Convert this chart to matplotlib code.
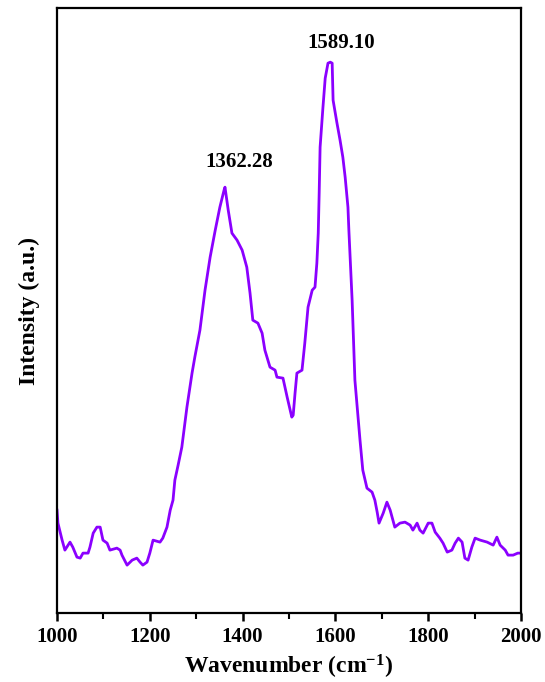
import numpy as np
import matplotlib
matplotlib.use("Agg")
import matplotlib.pyplot as plt
from matplotlib.ticker import MultipleLocator

# Raman spectrum
wavenumber = [1000, 1002, 1011, 1017, 1028, 1034, 1043, 1050, 1056, 1067, 1071, 1078, 1086,
              1093, 1099, 1108, 1114, 1129, 1136, 1140, 1151, 1162, 1172, 1179, 1185, 1194,
              1200, 1207, 1222, 1228, 1237, 1244, 1250, 1254, 1261, 1269, 1280, 1291, 1297,
              1308, 1319, 1330, 1341, 1351, 1360, 1362, 1369, 1377, 1388, 1399, 1409, 1416,
              1422, 1433, 1442, 1448, 1459, 1470, 1474, 1487, 1496, 1506, 1509, 1513, 1517,
              1528, 1534, 1541, 1550, 1556, 1560, 1563, 1565, 1567, 1573, 1578, 1584, 1589,
              1593, 1595, 1603, 1610, 1616, 1621, 1627, 1629, 1636, 1642, 1653, 1659, 1664,
              1668, 1679, 1685, 1690, 1694, 1703, 1711, 1718, 1724, 1728, 1739, 1750, 1761,
              1767, 1776, 1782, 1789, 1800, 1808, 1815, 1825, 1832, 1841, 1851, 1858, 1865,
              1873, 1879, 1886, 1894, 1901, 1912, 1927, 1940, 1948, 1955, 1966, 1972, 1983,
              1993, 2000]
intensity = [103, 90, 73, 63, 71, 66, 56, 55, 60, 60, 66, 80, 86,
             86, 73, 70, 63, 65, 63, 58, 48, 53, 55, 51, 48, 51,
             60, 73, 71, 75, 86, 103, 113, 133, 148, 166, 206, 240, 256,
             283, 323, 356, 383, 406, 423, 426, 403, 380, 373, 363, 346, 320,
             293, 290, 280, 263, 246, 243, 236, 235, 216, 196, 198, 220, 240,
             243, 270, 306, 323, 326, 350, 380, 420, 466, 505, 535, 550, 551,
             550, 513, 491, 473, 456, 436, 406, 383, 313, 233, 173, 143, 133,
             125, 121, 113, 101, 90, 100, 111, 103, 93, 86, 90, 91, 88,
             83, 90, 83, 80, 90, 90, 81, 75, 70, 61, 63, 70, 75,
             71, 55, 53, 66, 75, 73, 71, 68, 76, 68, 63, 58, 58,
             60, 60]

peak_labels = ["1362.28", "1589.10"]
peak_pos = [(1392, 451), (1612, 570)]

plt.rcParams['font.family'] = 'Liberation Serif'
plt.rcParams['font.weight'] = 'bold'
plt.rcParams['mathtext.fontset'] = 'custom'
plt.rcParams['mathtext.rm'] = 'Liberation Serif:bold'
plt.rcParams['mathtext.bf'] = 'Liberation Serif:bold'
plt.rcParams['mathtext.default'] = 'bf'

fig = plt.figure(figsize=(5.45, 6.82), dpi=100)
ax = fig.add_axes([0.1046, 0.101, 0.8514, 0.887])

ax.plot(wavenumber, intensity, color='#8B00FF', lw=2.0)

for lab, (x, y) in zip(peak_labels, peak_pos):
    ax.text(x, y, lab, ha='center', va='center', fontsize=15, fontweight='bold')

ax.set_xlim(1000, 2000)
ax.set_ylim(0, 605)
ax.xaxis.set_major_locator(MultipleLocator(200))
ax.xaxis.set_minor_locator(MultipleLocator(100))
ax.tick_params(axis='x', which='major', direction='out', length=6, width=1.8,
               labelsize=15, pad=4)
ax.tick_params(axis='x', which='minor', direction='out', length=4, width=1.5)
ax.set_yticks([])
for s in ax.spines.values():
    s.set_linewidth(1.6)

ax.set_xlabel('Wavenumber (cm$^{-1}$)', fontsize=17, fontweight='bold', labelpad=4)
ax.set_ylabel('Intensity (a.u.)', fontsize=17, fontweight='bold', labelpad=12)

fig.savefig('out.png', dpi=100)
